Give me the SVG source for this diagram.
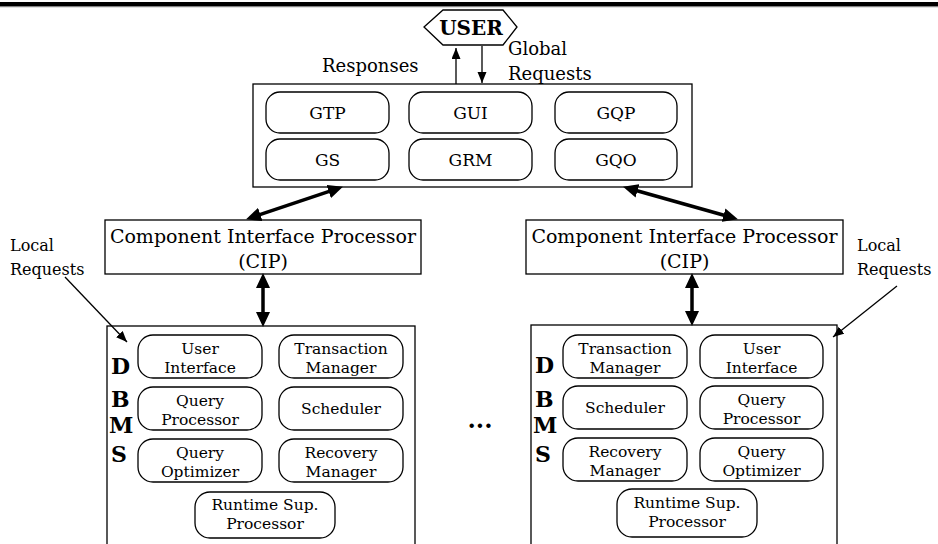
<svg xmlns="http://www.w3.org/2000/svg" width="938" height="544" viewBox="0 0 938 544">
<style>
text{font-family:"DejaVu Serif","Liberation Serif",serif;fill:#000}
.box{fill:#fff;stroke:#000;stroke-width:1.3}
.rb{fill:#fff;stroke:#000;stroke-width:1.3}
.lab{font-size:17px;text-anchor:middle}
.sl{font-size:15.5px;text-anchor:middle}
.cip{font-size:19px;text-anchor:middle}
.side{font-size:16px}
.top{font-size:18px}
.big{font-size:22px;font-weight:bold}
.thick{stroke:#000;stroke-width:3.5;fill:none;marker-start:url(#bh);marker-end:url(#bh)}
.thin{stroke:#000;stroke-width:1.3;fill:none;marker-end:url(#sh)}
</style>
<defs>
<marker id="bh" markerUnits="userSpaceOnUse" markerWidth="16" markerHeight="14" refX="6" refY="7" orient="auto-start-reverse"><path d="M0,0 L15,7 L0,14 z" fill="#000"/></marker>
<marker id="sh" markerUnits="userSpaceOnUse" markerWidth="12" markerHeight="10" refX="11" refY="4.5" orient="auto"><path d="M0,0 L11,4.5 L0,9 z" fill="#000"/></marker>
</defs>
<rect x="0" y="0" width="938" height="544" fill="#fff"/>
<rect x="0" y="2" width="938" height="4.5" fill="#000"/>
<line x1="0" y1="6.8" x2="938" y2="6.8" stroke="#888" stroke-width="0.8"/>

<g id="user">
<polygon class="box" points="424,27 443,10 503,10 517,27 503,45 443,45"/>
<text x="471" y="35" font-size="20" font-weight="bold" text-anchor="middle">USER</text>
</g>
<g id="labels">
<text class="top" x="322" y="72">Responses</text>
<text class="top" x="508" y="55">Global</text>
<text class="top" x="508" y="80">Requests</text>
<text class="side" x="10" y="251">Local</text>
<text class="side" x="10" y="275">Requests</text>
<text class="side" x="857" y="251">Local</text>
<text class="side" x="857" y="275">Requests</text>
<text x="480" y="428" font-size="24" font-weight="bold" text-anchor="middle">...</text>
</g>

<g id="global">
<rect class="box" x="253" y="84" width="439" height="103"/>
<rect class="rb" x="266" y="92" width="123" height="41" rx="14"/>
<rect class="rb" x="409" y="92" width="123" height="41" rx="14"/>
<rect class="rb" x="555" y="92" width="122" height="41" rx="14"/>
<rect class="rb" x="266" y="139" width="123" height="41" rx="14"/>
<rect class="rb" x="409" y="139" width="123" height="41" rx="14"/>
<rect class="rb" x="555" y="139" width="122" height="41" rx="14"/>
<text class="lab" x="327.5" y="118.5">GTP</text>
<text class="lab" x="470.5" y="118.5">GUI</text>
<text class="lab" x="616" y="118.5">GQP</text>
<text class="lab" x="327.5" y="165.5">GS</text>
<text class="lab" x="470.5" y="165.5">GRM</text>
<text class="lab" x="616" y="165.5">GQO</text>
</g>

<g id="cip-left">
<rect class="box" x="105" y="220" width="316" height="54"/>
<text class="cip" x="263" y="243">Component Interface Processor</text>
<text class="cip" x="263" y="268">(CIP)</text>
</g>
<g id="cip-right">
<rect class="box" x="526" y="220" width="317" height="54"/>
<text class="cip" x="684.5" y="243">Component Interface Processor</text>
<text class="cip" x="684.5" y="268">(CIP)</text>
</g>

<g id="dbms-left">
<rect class="box" x="107" y="326" width="308" height="240"/>
<text class="big" x="111" y="374">D</text>
<text class="big" x="111" y="407">B</text>
<text class="big" x="109" y="433">M</text>
<text class="big" x="111" y="462">S</text>
<rect class="rb" x="138" y="335" width="124" height="43" rx="15"/>
<rect class="rb" x="279" y="335" width="124" height="43" rx="15"/>
<rect class="rb" x="138" y="387" width="124" height="43" rx="15"/>
<rect class="rb" x="279" y="387" width="124" height="43" rx="15"/>
<rect class="rb" x="138" y="439" width="124" height="43" rx="15"/>
<rect class="rb" x="279" y="439" width="124" height="43" rx="15"/>
<rect class="rb" x="195" y="492" width="140" height="46" rx="15"/>
<text class="sl" x="200" y="354">User</text><text class="sl" x="200" y="372.5">Interface</text>
<text class="sl" x="341" y="354">Transaction</text><text class="sl" x="341" y="372.5">Manager</text>
<text class="sl" x="200" y="406">Query</text><text class="sl" x="200" y="424.5">Processor</text>
<text class="sl" x="341" y="414">Scheduler</text>
<text class="sl" x="200" y="458">Query</text><text class="sl" x="200" y="476.5">Optimizer</text>
<text class="sl" x="341" y="458">Recovery</text><text class="sl" x="341" y="476.5">Manager</text>
<text class="sl" x="265" y="510">Runtime Sup.</text><text class="sl" x="265" y="528.5">Processor</text>
</g>

<g id="dbms-right">
<rect class="box" x="531" y="325" width="306" height="240"/>
<text class="big" x="535" y="373">D</text>
<text class="big" x="535" y="407">B</text>
<text class="big" x="533" y="433">M</text>
<text class="big" x="535" y="462">S</text>
<rect class="rb" x="563" y="335" width="124" height="43" rx="15"/>
<rect class="rb" x="700" y="335" width="123" height="43" rx="15"/>
<rect class="rb" x="563" y="386" width="124" height="43" rx="15"/>
<rect class="rb" x="700" y="386" width="123" height="43" rx="15"/>
<rect class="rb" x="563" y="438" width="124" height="43" rx="15"/>
<rect class="rb" x="700" y="438" width="123" height="43" rx="15"/>
<rect class="rb" x="617" y="489" width="140" height="48" rx="15"/>
<text class="sl" x="625" y="354">Transaction</text><text class="sl" x="625" y="372.5">Manager</text>
<text class="sl" x="761.5" y="354">User</text><text class="sl" x="761.5" y="372.5">Interface</text>
<text class="sl" x="625" y="413">Scheduler</text>
<text class="sl" x="761.5" y="405">Query</text><text class="sl" x="761.5" y="423.5">Processor</text>
<text class="sl" x="625" y="457">Recovery</text><text class="sl" x="625" y="475.5">Manager</text>
<text class="sl" x="761.5" y="457">Query</text><text class="sl" x="761.5" y="475.5">Optimizer</text>
<text class="sl" x="687" y="508">Runtime Sup.</text><text class="sl" x="687" y="526.5">Processor</text>
</g>

<g id="connectors">
<line class="thin" x1="456" y1="84" x2="456" y2="48"/>
<line class="thin" x1="482" y1="46" x2="482" y2="83"/>
<line class="thick" x1="254.6" y1="216.4" x2="334.4" y2="189.6"/>
<line class="thick" x1="631.7" y1="189.2" x2="729.3" y2="216.8"/>
<line class="thick" x1="263" y1="282" x2="263" y2="318"/>
<line class="thick" x1="692" y1="282" x2="692" y2="317"/>
<line class="thin" x1="65" y1="277" x2="127" y2="342"/>
<line class="thin" x1="897" y1="286" x2="833" y2="337"/>
</g>
</svg>
